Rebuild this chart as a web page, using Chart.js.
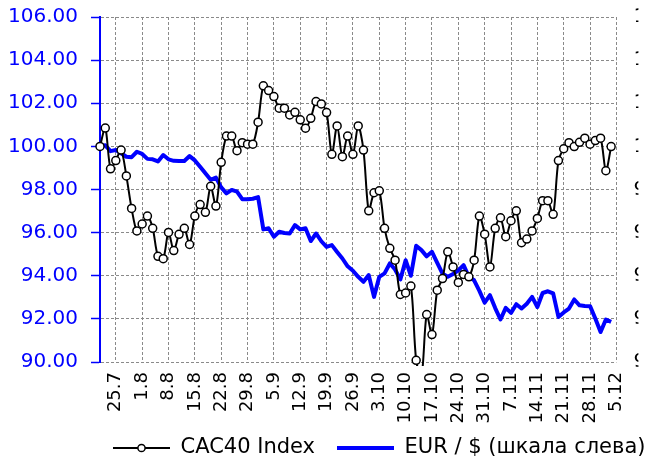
<!DOCTYPE html>
<html><head><meta charset="utf-8">
<script src="https://cdn.jsdelivr.net/npm/chart.js@4.4.0/dist/chart.umd.min.js"></script>
<style>html,body{margin:0;padding:0;background:#fff;overflow:hidden}#wrap{width:648px;height:461px}</style>
</head><body><div id="wrap"><canvas id="c" width="648" height="461"></canvas></div>
<script>
const dates = ["20.7","21.7","22.7",
"25.7","26.7","27.7","28.7","29.7",
"1.8","2.8","3.8","4.8","5.8",
"8.8","9.8","10.8","11.8","12.8",
"15.8","16.8","17.8","18.8","19.8",
"22.8","23.8","24.8","25.8","26.8",
"29.8","30.8","31.8","1.9","2.9",
"5.9","6.9","7.9","8.9","9.9",
"12.9","13.9","14.9","15.9","16.9",
"19.9","20.9","21.9","22.9","23.9",
"26.9","27.9","28.9","29.9","30.9",
"3.10","4.10","5.10","6.10","7.10",
"10.10","11.10","12.10","13.10","14.10",
"17.10","18.10","19.10","20.10","21.10",
"24.10","25.10","26.10","27.10","28.10",
"31.10","1.11","2.11","3.11","4.11",
"7.11","8.11","9.11","10.11","11.11",
"14.11","15.11","16.11","17.11","18.11",
"21.11","22.11","23.11","24.11","25.11",
"28.11","29.11","30.11","1.12","2.12",
"5.12"];

const weekLabels = ["25.7","1.8","8.8","15.8","22.8","29.8","5.9","12.9","19.9","26.9",
"3.10","10.10","17.10","24.10","31.10","7.11","14.11","21.11","28.11","5.12"];

const cac40 = [100.0,100.85,98.96,99.34,99.83,98.63,97.12,96.08,96.40,96.77,
96.20,94.90,94.79,96.01,95.17,95.92,96.20,95.45,96.77,97.30,
96.94,98.15,97.23,99.26,100.48,100.48,99.80,100.17,100.10,100.10,
101.12,102.81,102.59,102.31,101.77,101.77,101.46,101.58,101.23,100.84,
101.30,102.08,101.97,101.57,99.63,100.95,99.52,100.48,99.63,100.95,
99.83,97.01,97.85,97.94,96.20,95.27,94.72,93.13,93.20,93.52,
90.08,89.30,92.20,91.27,93.33,93.87,95.11,94.41,93.69,94.06,
93.95,94.72,96.77,95.93,94.41,96.20,96.69,95.81,96.55,97.01,
95.53,95.70,96.08,96.66,97.48,97.48,96.85,99.34,99.89,100.17,
99.99,100.19,100.38,100.10,100.27,100.38,98.87,99.99];

const eurUsd = [100.00,100.05,99.78,99.83,99.68,99.52,99.50,99.75,99.65,99.42,
99.40,99.30,99.60,99.40,99.33,99.32,99.32,99.55,99.35,99.05,
98.75,98.45,98.55,98.10,97.82,97.98,97.90,97.55,97.55,97.57,
97.65,96.15,96.20,95.81,96.04,95.98,95.96,96.35,96.15,96.20,
95.61,95.96,95.60,95.34,95.42,95.10,94.80,94.44,94.23,93.95,
93.72,94.03,93.02,93.95,94.11,94.57,94.29,93.83,94.72,94.00,
95.39,95.19,94.90,95.11,94.60,94.10,93.95,94.08,94.25,94.49,
93.95,93.79,93.30,92.75,93.10,92.50,91.97,92.51,92.28,92.68,
92.48,92.70,93.02,92.55,93.20,93.28,93.18,92.09,92.30,92.48,
92.90,92.63,92.60,92.59,92.02,91.39,91.97,91.86];

const yMin = 90, yMax = 106, yStep = 2;

const BLUE = '#0000FF';
const GRID = '#8a8a8a';

function sample(w, h, draw) {
  const c = document.createElement('canvas');
  c.width = w; c.height = h;
  draw(c.getContext('2d'));
  return c;
}
const cacSample = sample(57, 12, g => {
  g.strokeStyle = '#000'; g.lineWidth = 2;
  g.beginPath(); g.moveTo(0, 6); g.lineTo(57, 6); g.stroke();
  g.fillStyle = '#fff'; g.lineWidth = 1.5;
  g.beginPath(); g.arc(28.5, 6, 3.6, 0, Math.PI * 2); g.fill(); g.stroke();
});
const eurSample = sample(57, 6, g => {
  g.strokeStyle = BLUE; g.lineWidth = 4;
  g.beginPath(); g.moveTo(0, 3); g.lineTo(57, 3); g.stroke();
});

const legendPlace = {
  id: 'legendPlace',
  afterLayout(chart) {
    const l = chart.legend;
    const pad = l.options.labels.padding;
    const dx = 113 - (l.left + pad);
    l.left += dx; l.right = chart.width + 40;
    l.top = 448 - 10.5 - pad;
    l.bottom = chart.height;
  }
};

const tickFmt = v => Number(v).toFixed(2);
const noVPad = s => { s.paddingTop = 0; s.paddingBottom = 0; };

new Chart(document.getElementById('c'), {
  type: 'line',
  data: {
    labels: dates,
    datasets: [
      { label: 'CAC40 Index', data: cac40, yAxisID: 'y2',
        borderColor: '#000', borderWidth: 2, tension: 0.3,
        pointRadius: 4, pointBorderWidth: 1.5, pointBackgroundColor: '#fff', pointBorderColor: '#000',
        clip: { left: 8, right: 8, top: 8, bottom: 4 }, order: 0 },
      { label: 'EUR / $ (шкала слева)', data: eurUsd, yAxisID: 'y',
        borderColor: BLUE, borderWidth: 4, tension: 0, pointRadius: 0,
        borderJoinStyle: 'round', order: 1 }
    ]
  },
  options: {
    responsive: false, animation: false, events: [],
    layout: { padding: { top: 17, left: 0, right: 0, bottom: 0 } },
    plugins: {
      tooltip: { enabled: false },
      legend: {
        position: 'bottom', align: 'start', maxHeight: 19,
        labels: {
          usePointStyle: true, pointStyleWidth: 57, padding: 22, color: '#000',
          font: { family: 'DejaVu Sans', size: 21 },
          generateLabels: chart => {
            const items = Chart.defaults.plugins.legend.labels.generateLabels(chart);
            items[0].pointStyle = cacSample;
            items[1].pointStyle = eurSample;
            return items;
          }
        }
      }
    },
    scales: {
      x: {
        type: 'category',
        grid: { color: ctx => weekLabels.includes(dates[ctx.index]) ? GRID : 'rgba(0,0,0,0)', lineWidth: 1, drawTicks: false },
        border: { display: false, dash: [3, 2] },
        ticks: { autoSkip: false, maxRotation: 90, minRotation: 90, padding: 10, color: '#000',
          font: { family: 'DejaVu Sans', size: 18 },
          callback: (v, i) => weekLabels.includes(dates[i]) ? dates[i] : '' },
        afterFit: s => { s.height = 80; }
      },
      y: {
        position: 'left', min: yMin, max: yMax,
        ticks: { stepSize: yStep, color: BLUE, padding: 13, font: { family: 'DejaVu Sans', size: 20 }, callback: tickFmt },
        grid: { color: GRID, lineWidth: 1, tickColor: BLUE, tickLength: 9, tickWidth: 1.5 },
        border: { color: BLUE, width: 2, dash: [3, 2] },
        afterFit: s => { s.width = 100; noVPad(s); }
      },
      y2: {
        position: 'right', min: yMin, max: yMax,
        ticks: { stepSize: yStep, color: '#000', padding: 17, font: { family: 'DejaVu Sans', size: 20 }, callback: tickFmt },
        grid: { display: false, drawTicks: false },
        border: { display: false },
        afterFit: s => { s.width = 22; noVPad(s); }
      }
    }
  },
  plugins: [legendPlace]
});
</script>
</body></html>
